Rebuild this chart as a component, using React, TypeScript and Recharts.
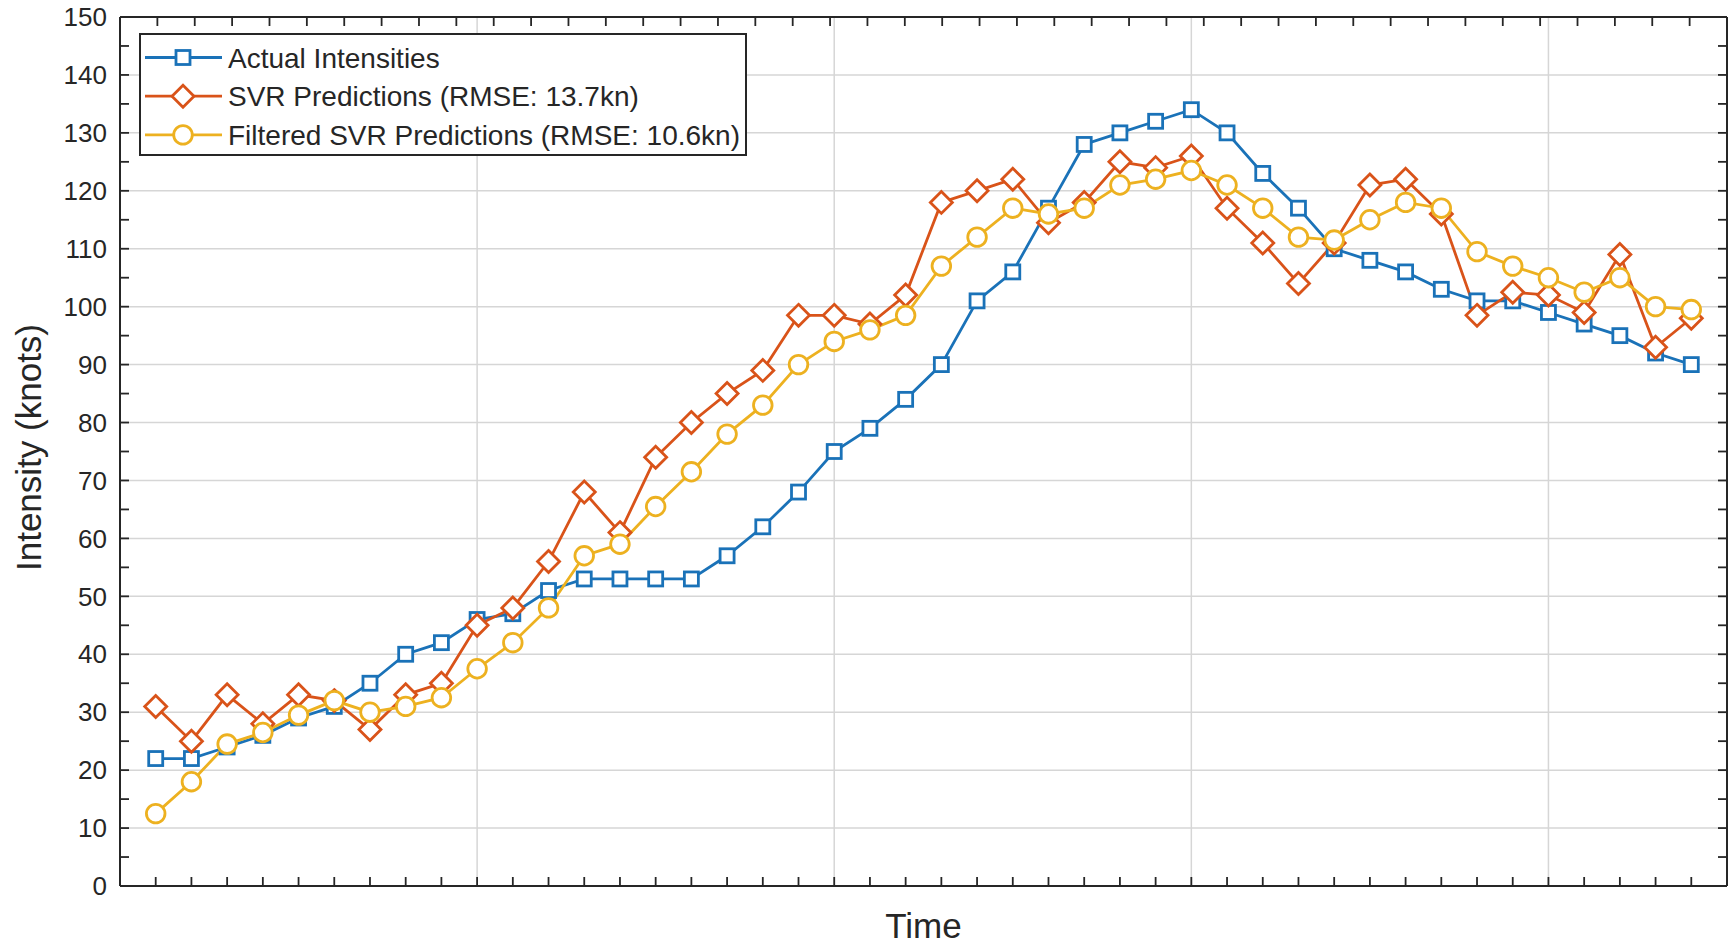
import { LineChart, Line, XAxis, YAxis, CartesianGrid, Legend } from "recharts";

// time steps (x positions)
const timeSteps = [
  1, 2, 3, 4, 5, 6, 7, 8, 9, 10, 11, 12, 13, 14, 15, 16, 17, 18, 19, 20, 21, 22,
  23, 24, 25, 26, 27, 28, 29, 30, 31, 32, 33, 34, 35, 36, 37, 38, 39, 40, 41, 42, 43, 44,
];

const actualIntensities = [
  22, 22, 24, 26, 29, 31, 35, 40, 42, 46, 47, 51, 53, 53, 53, 53, 57, 62, 68, 75, 79, 84,
  90, 101, 106, 117, 128, 130, 132, 134, 130, 123, 117, 110, 108, 106, 103, 101, 101, 99, 97, 95, 92, 90,
];

const svrPredictions = [
  31, 25, 33, 28, 33, 32, 27, 33, 35, 45, 48, 56, 68, 61, 74, 80, 85, 89, 98.5, 98.5, 97, 102,
  118, 120, 122, 114.5, 118, 125, 124, 126, 117, 111, 104, 111, 121, 122, 116, 98.5, 102.5, 102, 99, 109, 93, 98,
];

const filteredPredictions = [
  12.5, 18, 24.5, 26.5, 29.5, 32, 30, 31, 32.5, 37.5, 42, 48, 57, 59, 65.5, 71.5, 78, 83, 90, 94, 96, 98.5,
  107, 112, 117, 116, 117, 121, 122, 123.5, 121, 117, 112, 111.5, 115, 118, 117, 109.5, 107, 105, 102.5, 105, 100, 99.5,
];

const yTicks = [0, 5, 10, 15, 20, 25, 30, 35, 40, 45, 50, 55, 60, 65, 70, 75, 80, 85, 90, 95, 100, 105, 110, 115, 120, 125, 130, 135, 140, 145, 150];
const xTicks = [
  0, 1, 2, 3, 4, 5, 6, 7, 8, 9, 10, 11, 12, 13, 14, 15, 16, 17, 18, 19, 20, 21, 22, 23,
  24, 25, 26, 27, 28, 29, 30, 31, 32, 33, 34, 35, 36, 37, 38, 39, 40, 41, 42, 43, 44, 45,
];
const gridY = [10, 20, 30, 40, 50, 60, 70, 80, 90, 100, 110, 120, 130, 140];
const gridX = [10, 20, 30, 40];

const seriesNames = {
  actual: "Actual Intensities",
  svr: "SVR Predictions (RMSE: 13.7kn)",
  filtered: "Filtered SVR Predictions (RMSE: 10.6kn)",
};

const colors = {
  actual: "#1a72b8",
  svr: "#d95319",
  filtered: "#edb120",
  axis: "#262626",
  grid: "#d6d6d6",
};

const FONT = '"Liberation Sans", Arial, Helvetica, sans-serif';

const chartData = timeSteps.map((t, i) => ({
  t,
  actual: actualIntensities[i],
  svr: svrPredictions[i],
  filtered: filteredPredictions[i],
}));

type MarkerKind = "square" | "diamond" | "circle";

const Marker = ({ kind, cx, cy, color }: { kind: MarkerKind; cx: number; cy: number; color: string }) => {
  if (kind === "square") {
    return <rect x={cx - 7} y={cy - 7} width={14} height={14} fill="#fff" stroke={color} strokeWidth={2.8} />;
  }
  if (kind === "diamond") {
    const r = 11;
    return (
      <polygon
        points={`${cx},${cy - r} ${cx + r},${cy} ${cx},${cy + r} ${cx - r},${cy}`}
        fill="#fff"
        stroke={color}
        strokeWidth={2.8}
      />
    );
  }
  return <circle cx={cx} cy={cy} r={9.3} fill="#fff" stroke={color} strokeWidth={2.8} />;
};

const makeDot = (kind: MarkerKind, color: string) => (props: any) => (
  <g key={`${kind}-${props.index}`}>
    <Marker kind={kind} cx={props.cx} cy={props.cy} color={color} />
  </g>
);

const legendItems: { name: string; kind: MarkerKind; color: string }[] = [
  { name: seriesNames.actual, kind: "square", color: colors.actual },
  { name: seriesNames.svr, kind: "diamond", color: colors.svr },
  { name: seriesNames.filtered, kind: "circle", color: colors.filtered },
];

const LegendBox = () => (
  <svg width={608} height={123} style={{ display: "block" }}>
    <rect x={1} y={1} width={606} height={121} fill="#fff" stroke={colors.axis} strokeWidth={2} />
    {legendItems.map((item, i) => {
      const cy = 24.5 + i * 38.7;
      return (
        <g key={item.name}>
          <line x1={6} x2={83} y1={cy} y2={cy} stroke={item.color} strokeWidth={2.8} />
          <Marker kind={item.kind} cx={44} cy={cy} color={item.color} />
          <text x={89} y={cy} dy="0.36em" fontSize={28} fill={colors.axis} fontFamily={FONT}>
            {item.name}
          </text>
        </g>
      );
    })}
  </svg>
);

const tickStyle = { fill: colors.axis, fontSize: 26, fontFamily: FONT };
const axisLineStyle = { stroke: colors.axis, strokeWidth: 2 };
const tickLineStyle = { stroke: colors.axis, strokeWidth: 1.8 };

const App = () => {
  return (
    <div style={{ position: "absolute", left: 0, top: 0, width: 1732, height: 948, background: "#fff" }}>
      <LineChart width={1732} height={948} data={chartData} margin={{ top: 16, right: 4, left: 0, bottom: 0 }}>
        <CartesianGrid
          stroke={colors.grid}
          strokeWidth={1.5}
          horizontalValues={gridY}
          verticalValues={gridX}
        />
        <XAxis
          dataKey="t"
          type="number"
          domain={[0, 45]}
          allowDataOverflow
          ticks={xTicks}
          interval={0}
          height={62}
          tickSize={-9}
          tickFormatter={() => ""}
          axisLine={axisLineStyle}
          tickLine={tickLineStyle}
          label={(props: any) => {
            const vb = props.viewBox;
            return (
              <text
                x={vb.x + vb.width / 2}
                y={vb.y + 52}
                textAnchor="middle"
                fontSize={35}
                fill={colors.axis}
                fontFamily={FONT}
              >
                Time
              </text>
            );
          }}
        />
        <XAxis
          xAxisId="top"
          orientation="top"
          type="number"
          domain={[0, 45]}
          allowDataOverflow
          ticks={xTicks}
          interval={0}
          height={1}
          tickSize={-9}
          tickFormatter={() => ""}
          axisLine={axisLineStyle}
          tickLine={tickLineStyle}
        />
        <YAxis
          type="number"
          domain={[0, 150]}
          allowDataOverflow
          ticks={yTicks}
          interval={0}
          width={120}
          tickSize={-9}
          tickMargin={22}
          tick={tickStyle}
          tickFormatter={(v: number) => (v % 10 === 0 ? String(v) : "")}
          axisLine={axisLineStyle}
          tickLine={tickLineStyle}
          label={(props: any) => {
            const vb = props.viewBox;
            const x = 28;
            const y = vb.y + vb.height / 2 - 4;
            return (
              <text
                x={x}
                y={y}
                transform={`rotate(-90 ${x} ${y})`}
                textAnchor="middle"
                dominantBaseline="central"
                fontSize={35}
                fill={colors.axis}
                fontFamily={FONT}
              >
                Intensity (knots)
              </text>
            );
          }}
        />
        <YAxis
          yAxisId="right"
          orientation="right"
          type="number"
          domain={[0, 150]}
          allowDataOverflow
          ticks={yTicks}
          interval={0}
          width={1}
          tickSize={-9}
          tickFormatter={() => ""}
          axisLine={axisLineStyle}
          tickLine={tickLineStyle}
        />
        <Legend
          layout="vertical"
          align="center"
          verticalAlign="middle"
          content={() => <LegendBox />}
          wrapperStyle={{ position: "absolute", left: 139, top: 33, width: 608, height: 123 }}
        />
        <Line
          type="linear"
          dataKey="actual"
          name={seriesNames.actual}
          stroke={colors.actual}
          strokeWidth={2.8}
          dot={makeDot("square", colors.actual)}
          activeDot={false}
          isAnimationActive={false}
        />
        <Line
          type="linear"
          dataKey="svr"
          name={seriesNames.svr}
          stroke={colors.svr}
          strokeWidth={2.8}
          dot={makeDot("diamond", colors.svr)}
          activeDot={false}
          isAnimationActive={false}
        />
        <Line
          type="linear"
          dataKey="filtered"
          name={seriesNames.filtered}
          stroke={colors.filtered}
          strokeWidth={2.8}
          dot={makeDot("circle", colors.filtered)}
          activeDot={false}
          isAnimationActive={false}
        />
      </LineChart>
    </div>
  );
};

export default App;
